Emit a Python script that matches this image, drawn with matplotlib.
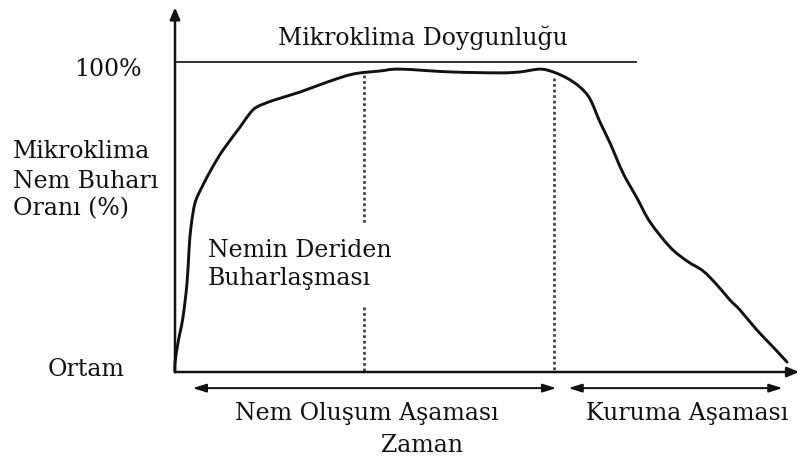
import matplotlib
matplotlib.use("Agg")
import matplotlib.pyplot as plt
import numpy as np
from matplotlib.path import Path
from matplotlib.patches import PathPatch

# moisture curve: time (0-100) vs microclimate vapour ratio (%)
time = [0, 0, 0.49, 1.31, 1.97, 2.30, 2.62, 3.28, 4.43, 6.07, 7.87, 10.66, 12.30,
        13.44, 16.07, 20.49, 24.92, 29.18, 33.61, 36.89, 45.08, 53.28, 56.56,
        59.84, 61.97, 64.26, 66.39, 68.03, 69.67, 71.31, 73.44, 75.74, 77.87,
        81.15, 83.93, 86.56, 88.85, 90.98, 92.62, 95.41, 98.03, 100.33]
ratio = [0, 2.9, 9.4, 17.7, 28.7, 39.4, 46.8, 54.5, 59.7, 65.8, 71.6, 79.0, 83.5,
         85.5, 87.6, 90.3, 93.5, 96.1, 97.1, 97.7, 96.8, 96.5, 96.8,
         97.7, 96.8, 94.8, 91.9, 88.1, 80.6, 73.9, 64.2, 56.1, 48.4,
         40.3, 35.8, 32.6, 28.1, 23.2, 20.0, 13.5, 8.1, 3.2]

saturation = 100
saturation_end = 75.7
phase_split = [31.0, 62.1]
stage_forming = (2.9, 62.5)
stage_drying = (64.5, 99.6)

# figure layout in pixels: origin at (175, 372), 6.1 px per time unit, 3.1 px per %
W, H = 800, 458
X0, Y0, SX, SY = 175, 372, 6.1, 3.1


def smooth_path(xs, ys):
    """Catmull-Rom through the points, as cubic bezier segments."""
    p = np.column_stack([xs, ys]).astype(float)
    verts, codes = [p[0]], [Path.MOVETO]
    n = len(p)
    for i in range(n - 1):
        p0 = p[max(i - 1, 0)]
        p1, p2 = p[i], p[i + 1]
        p3 = p[min(i + 2, n - 1)]
        verts += [p1 + (p2 - p0) / 6, p2 - (p3 - p1) / 6, p2]
        codes += [Path.CURVE4] * 3
    return Path(verts, codes)


fig = plt.figure(figsize=(W / 100, H / 100), dpi=100)
ax = fig.add_axes([0, 0, 1, 1])
ax.set_xlim(-X0 / SX, (W - X0) / SX)
ax.set_ylim(-(H - Y0) / SY, Y0 / SY)
ax.axis("off")

ink = "#111111"
font = dict(family="DejaVu Serif", fontsize=17, color=ink)

# axes with arrow heads
ax.annotate("", xy=(0, 117.6), xytext=(0, 0),
            arrowprops=dict(arrowstyle="-|>,head_length=0.7,head_width=0.3",
                            lw=1.8, color=ink, shrinkA=0, shrinkB=0))
ax.annotate("", xy=(102.3, 0), xytext=(0, 0),
            arrowprops=dict(arrowstyle="-|>,head_length=0.7,head_width=0.3",
                            lw=1.8, color=ink, shrinkA=0, shrinkB=0))

# saturation level
ax.plot([0, saturation_end], [saturation, saturation], color="#333333", lw=1.4,
        solid_capstyle="butt")

# phase boundaries
ax.plot([phase_split[0]] * 2, [95.8, 48.1], color="#444444", lw=2, ls=(0, (1, 1)))
ax.plot([phase_split[0]] * 2, [21.0, 0], color="#444444", lw=2, ls=(0, (1, 1)))
ax.plot([phase_split[1]] * 2, [95.0, 0], color="#444444", lw=2, ls=(0, (1, 1)))

# the curve
ax.add_patch(PathPatch(smooth_path(time, ratio), fill=False, edgecolor=ink,
                       lw=2.1, joinstyle="round", capstyle="round"))

# stage spans under the time axis
for a, b in (stage_forming, stage_drying):
    ax.annotate("", xy=(b, -5.2), xytext=(a, -5.2),
                arrowprops=dict(arrowstyle="<|-|>,head_length=0.8,head_width=0.25",
                                lw=1.4, color=ink, shrinkA=0, shrinkB=0))

# labels
ax.text(40.6, 105.5, "Mikroklima Doygunluğu", ha="center", va="baseline", **font)
ax.text(-5.4, 95.5, "100%", ha="right", va="baseline", **font)
for y, s in zip([69.0, 59.4, 50.6], ["Mikroklima", "Nem Buharı", "Oranı (%)"]):
    ax.text(-26.6, y, s, ha="left", va="baseline", **font)
for y, s in zip([37.1, 28.1], ["Nemin Deriden", "Buharlaşması"]):
    ax.text(5.4, y, s, ha="left", va="baseline", **font)
ax.text(-20.8, -1.3, "Ortam", ha="left", va="baseline", **font)
ax.text(31.5, -15.5, "Nem Oluşum Aşaması", ha="center", va="baseline", **font)
ax.text(40.5, -25.8, "Zaman", ha="center", va="baseline", **font)
ax.text(83.9, -15.5, "Kuruma Aşaması", ha="center", va="baseline", **font)

fig.savefig("out.png", dpi=100)
